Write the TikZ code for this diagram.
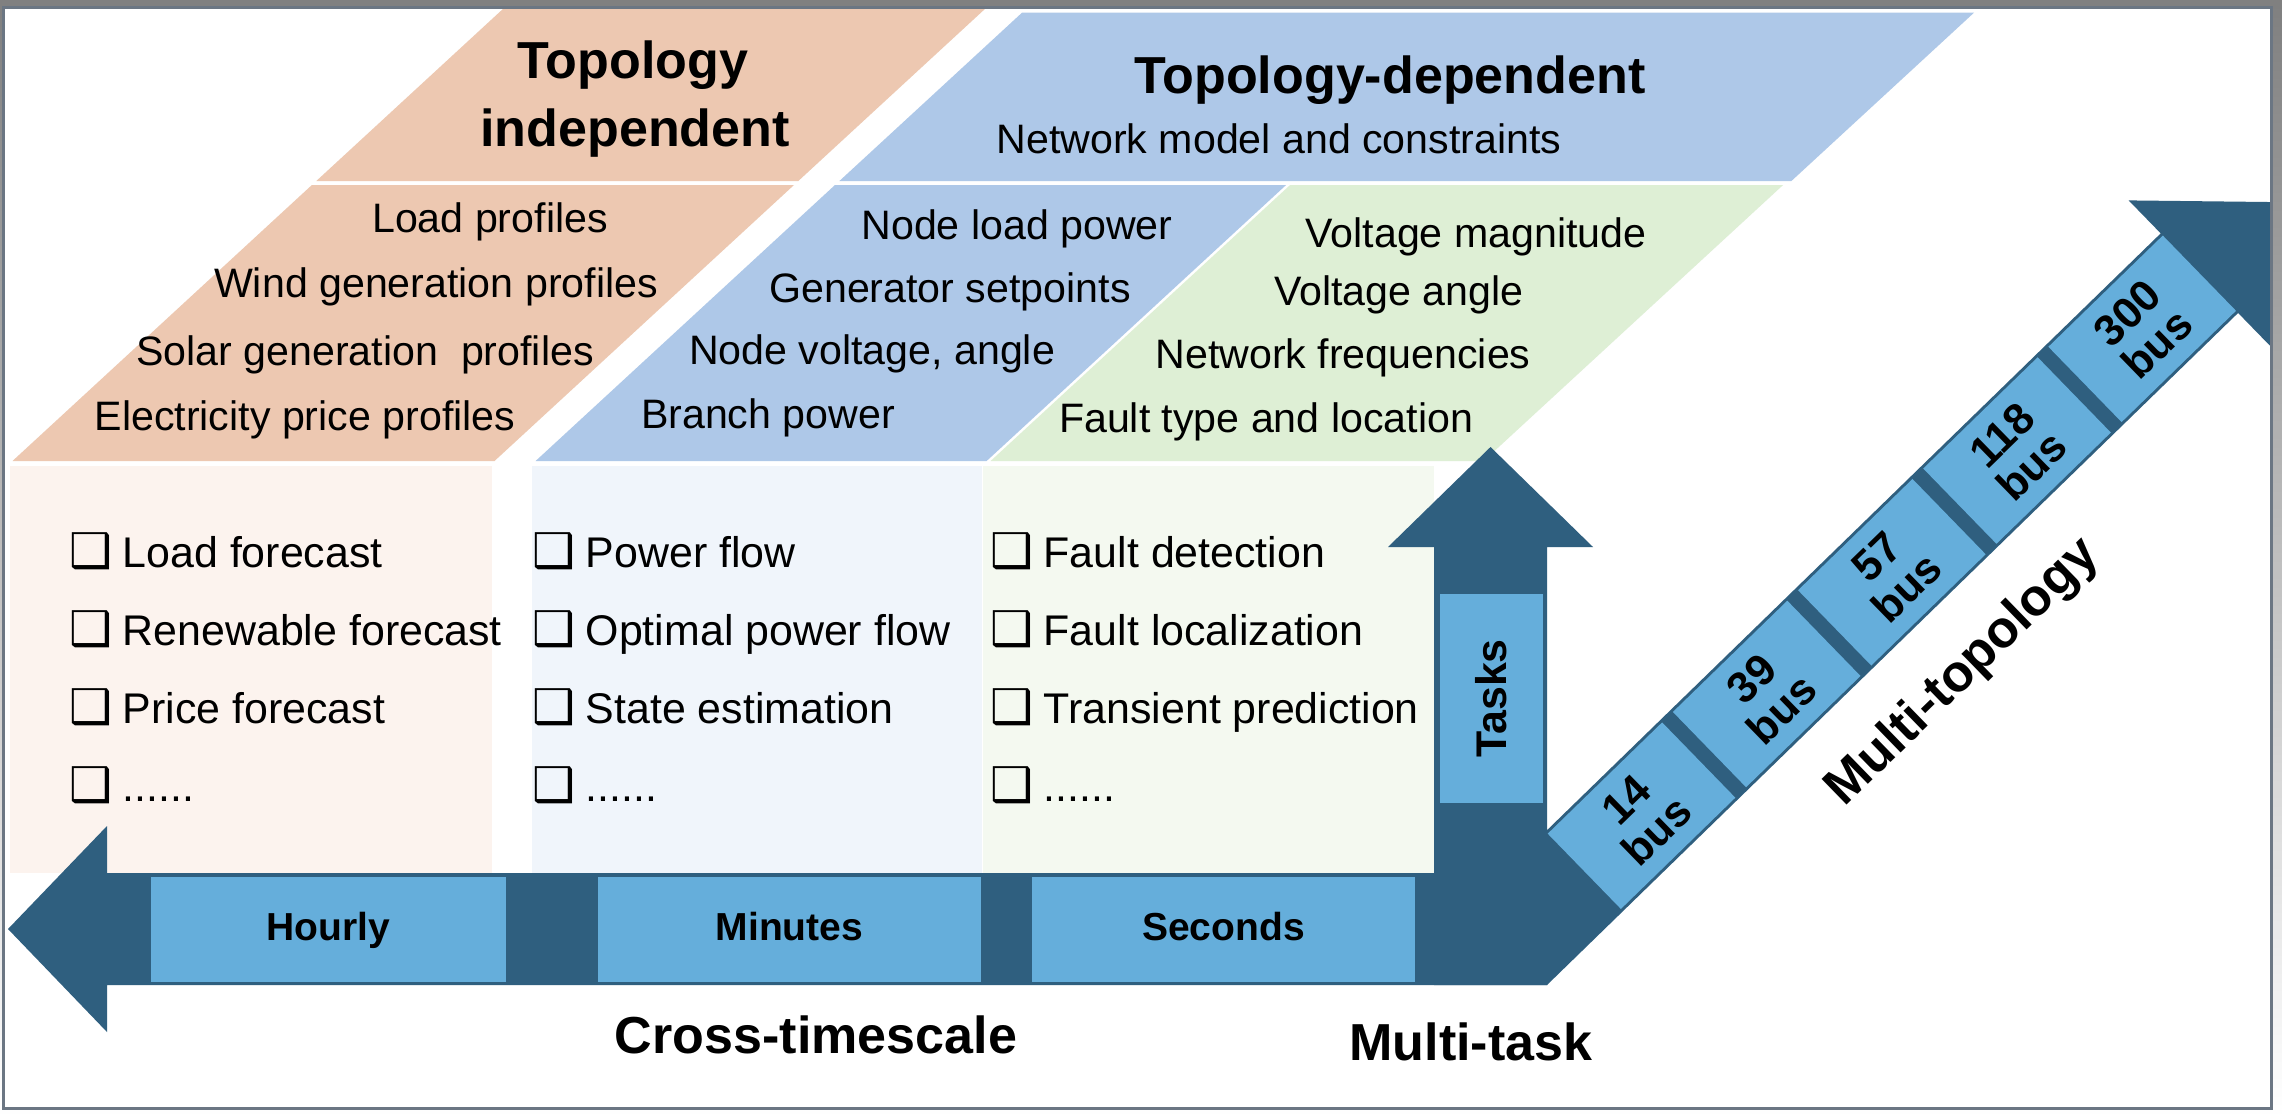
\documentclass[tikz,border=0pt]{standalone}
\usepackage{fontspec}
\setmainfont{Liberation Sans}
\newfontfamily\symfont{DejaVu Sans}
\definecolor{peach}{RGB}{237,200,177}
\definecolor{skyband}{RGB}{174,200,232}
\definecolor{mint}{RGB}{222,239,213}
\definecolor{navy}{RGB}{47,95,127}
\definecolor{cell}{RGB}{101,174,219}
\definecolor{peachtint}{RGB}{252,243,238}
\definecolor{skytint}{RGB}{240,245,251}
\definecolor{minttint}{RGB}{244,249,240}
\definecolor{framegray}{RGB}{107,118,131}
\definecolor{shade}{RGB}{238,240,243}
\newcommand{\chk}{\makebox[0.53cm][l]{\fontsize{13.6}{14}\symfont\char"2751}}
\begin{document}
\begin{tikzpicture}[x=0.01cm,y=-0.01cm,
  plain/.style={font=\fontsize{11.7}{14}\selectfont, inner sep=0pt, anchor=base},
  head/.style={font=\fontsize{14.8}{18}\selectfont\bfseries, inner sep=0pt, anchor=base},
  item/.style={font=\fontsize{12.2}{14}\selectfont, inner sep=0pt, anchor=base west},
  scalelabel/.style={font=\fontsize{11.1}{13}\selectfont\bfseries, inner sep=0pt, anchor=base},
  buslabel/.style={font=\fontsize{12.4}{12.2}\selectfont\bfseries, align=center, inner sep=0pt, rotate=44.2},
  cellbox/.style={fill=cell},
  arrowbody/.style={fill=navy}]
\useasboundingbox (0,0) rectangle (2282,1118);
% page and frame
\fill[shade] (0,0) rectangle (2282,1118);
\fill[white] (3.5,7.5) rectangle (2271.5,1108.5);

% data-category parallelograms
\fill[peach] (504,8) -- (986,8) -- (798.3,181) -- (316.3,181) -- cycle;
\fill[peach] (311.9,185) -- (794.0,185) -- (494.5,461) -- (12.5,461) -- cycle;
\fill[skyband] (1022,12.7) -- (1974,12.7) -- (1791.4,181) -- (839.4,181) -- cycle;
\fill[skyband] (835.0,185) -- (1286.1,185) -- (986.6,461) -- (535.6,461) -- cycle;
\fill[mint] (1290.1,185) -- (1783.1,185) -- (1483.6,461) -- (990.6,461) -- cycle;

% task panels
\fill[peachtint] (10,466) rectangle (492,873);
\fill[skytint] (532,466) rectangle (982,873);
\fill[minttint] (983,466) rectangle (1434,873);

% cross-timescale arrow
\fill[arrowbody] (8,929) -- (107,826) -- (107,873) -- (1547,873) -- (1547,985)
  -- (107,985) -- (107,1032) -- cycle;
% multi-task arrow
\fill[arrowbody] (1434,985) -- (1434,547) -- (1388,547) -- (1490.5,447)
  -- (1593,547) -- (1547,547) -- (1547,985) -- cycle;
% multi-topology arrow
\begin{scope}[shift={(1547,985)}, rotate=44.2]
  \fill[arrowbody] (0,0) -- (964,0) -- (964,46) -- (1066,-55.5) -- (964,-157)
    -- (964,-111) -- (0,-111) -- cycle;
  \foreach \k/\n in {0/14,1/39,2/57,3/118,4/300}{
    \fill[cellbox] ({106+174.6*\k},-3) rectangle ({265.6+174.6*\k},-108);
    \node[buslabel] (bus\n) at ({185.8+174.6*\k},-55.5) {\n\\bus};
  }
  \node[head, rotate=44.2] (multitopo) at (516,80) {Multi-topology};
\end{scope}

% timescale cells
\fill[cellbox] (151,877) rectangle (506,982);
\fill[cellbox] (598,877) rectangle (981,982);
\fill[cellbox] (1032,877) rectangle (1415,982);
\fill[cellbox] (1440,594) rectangle (1543,803);
\node[scalelabel] (hourly) at (328.5,940) {Hourly};
\node[scalelabel] (minutes) at (789.5,940) {Minutes};
\node[scalelabel] (seconds) at (1223.5,940) {Seconds};
\node[font=\fontsize{12.2}{14}\selectfont\bfseries, inner sep=0pt, rotate=90] (tasks) at (1491.5,698.5) {Tasks};

% headings
\node[head] (ti1) at (633,78) {Topology};
\node[head] (ti2) at (635,146) {independent};
\node[head] (td) at (1390,93) {Topology-dependent};
\node[plain] (netmodel) at (1279,153) {Network model and constraints};

% topology-independent data
\node[plain] (loadp) at (490,232) {Load profiles};
\node[plain] (windp) at (436,297) {Wind generation profiles};
\node[plain] (solarp) at (365,365) {Solar generation\ \ profiles};
\node[plain] (pricep) at (305,430) {Electricity price profiles};
% operating quantities
\node[plain] (nodeload) at (1017,239) {Node load power};
\node[plain] (genset) at (950,302) {Generator setpoints};
\node[plain] (nodevolt) at (872,364) {Node voltage, angle};
\node[plain] (branch) at (768,428) {Branch power};
% dynamic quantities
\node[plain] (vmag) at (1476,247) {Voltage magnitude};
\node[plain] (vang) at (1399,305) {Voltage angle};
\node[plain] (freq) at (1343,368) {Network frequencies};
\node[plain] (fault) at (1266,432) {Fault type and location};

% task lists
\node[item] (t11) at (69,567) {\chk Load forecast};
\node[item] (t12) at (69,645) {\chk Renewable forecast};
\node[item] (t13) at (69,723) {\chk Price forecast};
\node[item] (t14) at (69,801) {\chk ......};
\node[item] (t21) at (532,567) {\chk Power flow};
\node[item] (t22) at (532,645) {\chk Optimal power flow};
\node[item] (t23) at (532,723) {\chk State estimation};
\node[item] (t24) at (532,801) {\chk ......};
\node[item] (t31) at (990,567) {\chk Fault detection};
\node[item] (t32) at (990,645) {\chk Fault localization};
\node[item] (t33) at (990,723) {\chk Transient prediction};
\node[item] (t34) at (990,801) {\chk ......};

% axis captions
\node[head] (crossts) at (816,1053) {Cross-timescale};
\node[head] (multitask) at (1471,1060) {Multi-task};

% frame line on top
\draw[framegray, line width=0.85pt] (3.5,7.5) rectangle (2271.5,1108.5);
\end{tikzpicture}
\end{document}
